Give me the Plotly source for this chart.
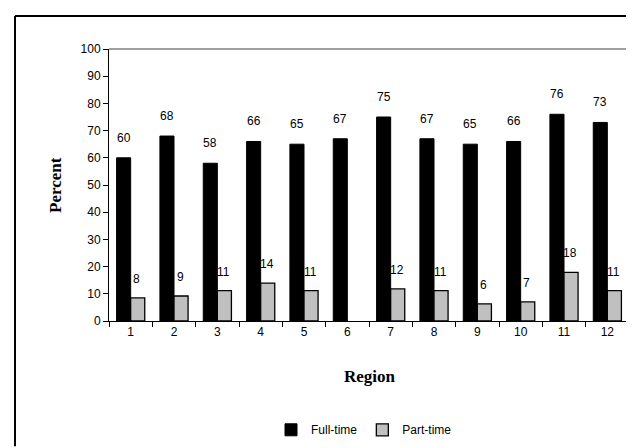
import plotly.graph_objects as go

regions = ["1", "2", "3", "4", "5", "6", "7", "8", "9", "10", "11", "12"]
full_time = [60, 68, 58, 66, 65, 67, 75, 67, 65, 66, 76, 73]
part_time = [8.5, 9.2, 11.2, 13.9, 11.2, None, 11.8, 11.2, 6.3, 7, 17.9, 11.2]
part_labels = ["8", "9", "11", "14", "11", "", "12", "11", "6", "7", "18", "11"]
full_labels = [str(v) for v in full_time]
y_ticks = list(range(0, 101, 10))

W, H = 634, 448
L, R, T, B = 101, 621, 41, 321


def px(x):
    return (x - L) / (R - L)


def py(y):
    return (B - y) / (B - T)


fig = go.Figure()
fig.add_trace(go.Bar(x=regions, y=full_time, name="Full-time",
                     marker=dict(color="#000000", line=dict(color="#000000", width=1))))
fig.add_trace(go.Bar(x=regions, y=part_time, name="Part-time",
                     marker=dict(color="#C0C0C0", line=dict(color="#000000", width=1.3))))

label_font = dict(family="Liberation Sans, Arial, sans-serif", size=12, color="#000000")
annotations = []
for i, (v, t) in enumerate(zip(full_time, full_labels)):
    annotations.append(dict(x=i, y=v, xref="x", yref="y", text=t, showarrow=False,
                            xshift=-7, yshift=20, yanchor="middle", font=label_font))
for i, (v, t) in enumerate(zip(part_time, part_labels)):
    if v is None:
        continue
    annotations.append(dict(x=i, y=v, xref="x", yref="y", text=t, showarrow=False,
                            xshift=6, yshift=19, yanchor="middle", font=label_font))

title_font = dict(family="Liberation Serif, Times New Roman, serif", size=17, color="#000000")
annotations.append(dict(x=px(47), y=0.5, xref="paper", yref="paper", text="<b>Percent</b>",
                        textangle=-90, showarrow=False, font=title_font,
                        xanchor="center", yanchor="middle"))
annotations.append(dict(x=px(362), y=py(378), xref="paper", yref="paper", text="<b>Region</b>",
                        showarrow=False, font=title_font, xanchor="center", yanchor="middle"))

shapes = [
    dict(type="line", xref="paper", yref="paper", x0=0, y0=1, x1=1, y1=1,
         line=dict(color="#808080", width=1.5)),
    dict(type="line", xref="paper", yref="paper", x0=1, y0=0, x1=1, y1=1,
         line=dict(color="#808080", width=1.5)),
    dict(type="line", xref="paper", yref="paper", x0=px(7), y0=py(7), x1=px(7), y1=py(450),
         line=dict(color="#000000", width=2)),
    dict(type="line", xref="paper", yref="paper", x0=px(7), y0=py(7), x1=px(640), y1=py(7),
         line=dict(color="#000000", width=2)),
]

fig.update_layout(
    width=W, height=H,
    margin=dict(l=L, r=W - R, t=T, b=H - B, pad=0),
    paper_bgcolor="white", plot_bgcolor="white",
    barmode="group", bargap=0.35, bargroupgap=0,
    showlegend=True,
    legend=dict(orientation="h", x=px(356), y=py(433), xanchor="center", yanchor="middle",
                font=dict(family="Liberation Sans, Arial, sans-serif", size=12, color="#000000"),
                itemwidth=30, bgcolor="rgba(0,0,0,0)"),
    annotations=annotations,
    shapes=shapes,
    xaxis=dict(type="category", showline=True, linecolor="#000000", linewidth=1,
               ticks="outside", ticklen=5, tickcolor="#000000", tickson="boundaries",
               showgrid=False, zeroline=False,
               tickfont=dict(family="Liberation Sans, Arial, sans-serif", size=12, color="#000000")),
    yaxis=dict(range=[0, 100], tickvals=y_ticks, showline=True, linecolor="#000000", linewidth=1,
               ticks="outside", ticklen=5, tickcolor="#000000", showgrid=False, zeroline=False,
               tickfont=dict(family="Liberation Sans, Arial, sans-serif", size=12, color="#000000")),
)

fig.write_html("out.html")
